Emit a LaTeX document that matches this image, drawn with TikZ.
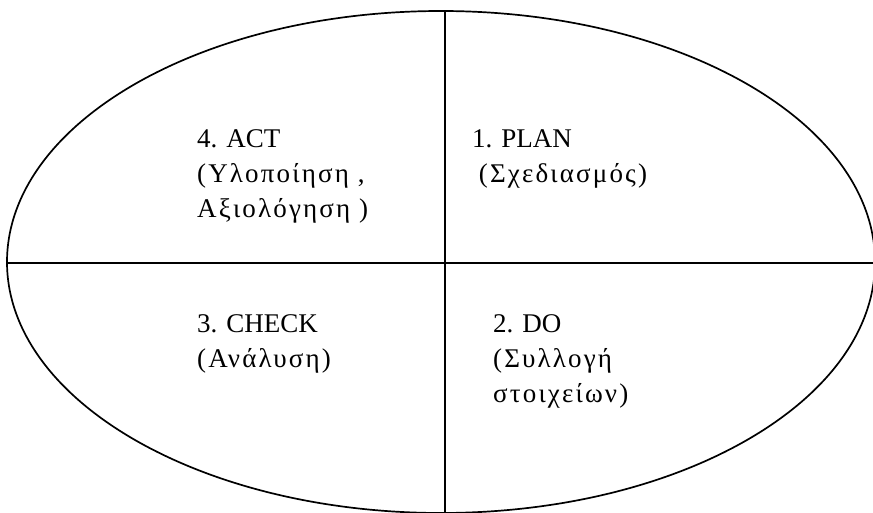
\documentclass[tikz,border=0pt]{standalone}
\usepackage{fontspec}
\setmainfont{Liberation Serif}
\newfontfamily\grk[LetterSpace=8]{Liberation Serif}
\begin{document}
\begin{tikzpicture}[x=1pt,y=-1pt,
  edge/.style={line width=1.7pt,black},
  lbl/.style={anchor=north west,inner sep=0pt,align=left,font=\fontsize{27}{35}\selectfont}]
\useasboundingbox (0,0) rectangle (873,513);
\clip (0,0) rectangle (873,513);
\fill[white] (0,0) rectangle (873,513);
\draw[edge] (441,262) ellipse [x radius=434, y radius=251];
\coordinate (top) at (445,11);
\coordinate (bot) at (445,515);
\coordinate (lft) at (7,263);
\coordinate (rgt) at (880,263);
\draw[edge] (top) -- (bot);
\draw[edge] (lft) -- (rgt);
\node[lbl] (act) at (197,129) {4. ACT\\{\grk(Υλοποίηση ,}\\{\grk Αξιολόγηση )}};
\node[lbl] (plan) at (472,129) {1. PLAN\\\ {\grk(Σχεδιασμός)}};
\node[lbl] (check) at (197,314) {3. CHECK\\{\grk(Ανάλυση)}};
\node[lbl] (do) at (493,314) {2. DO\\{\grk(Συλλογή}\\{\grk στοιχείων)}};
\end{tikzpicture}
\end{document}
